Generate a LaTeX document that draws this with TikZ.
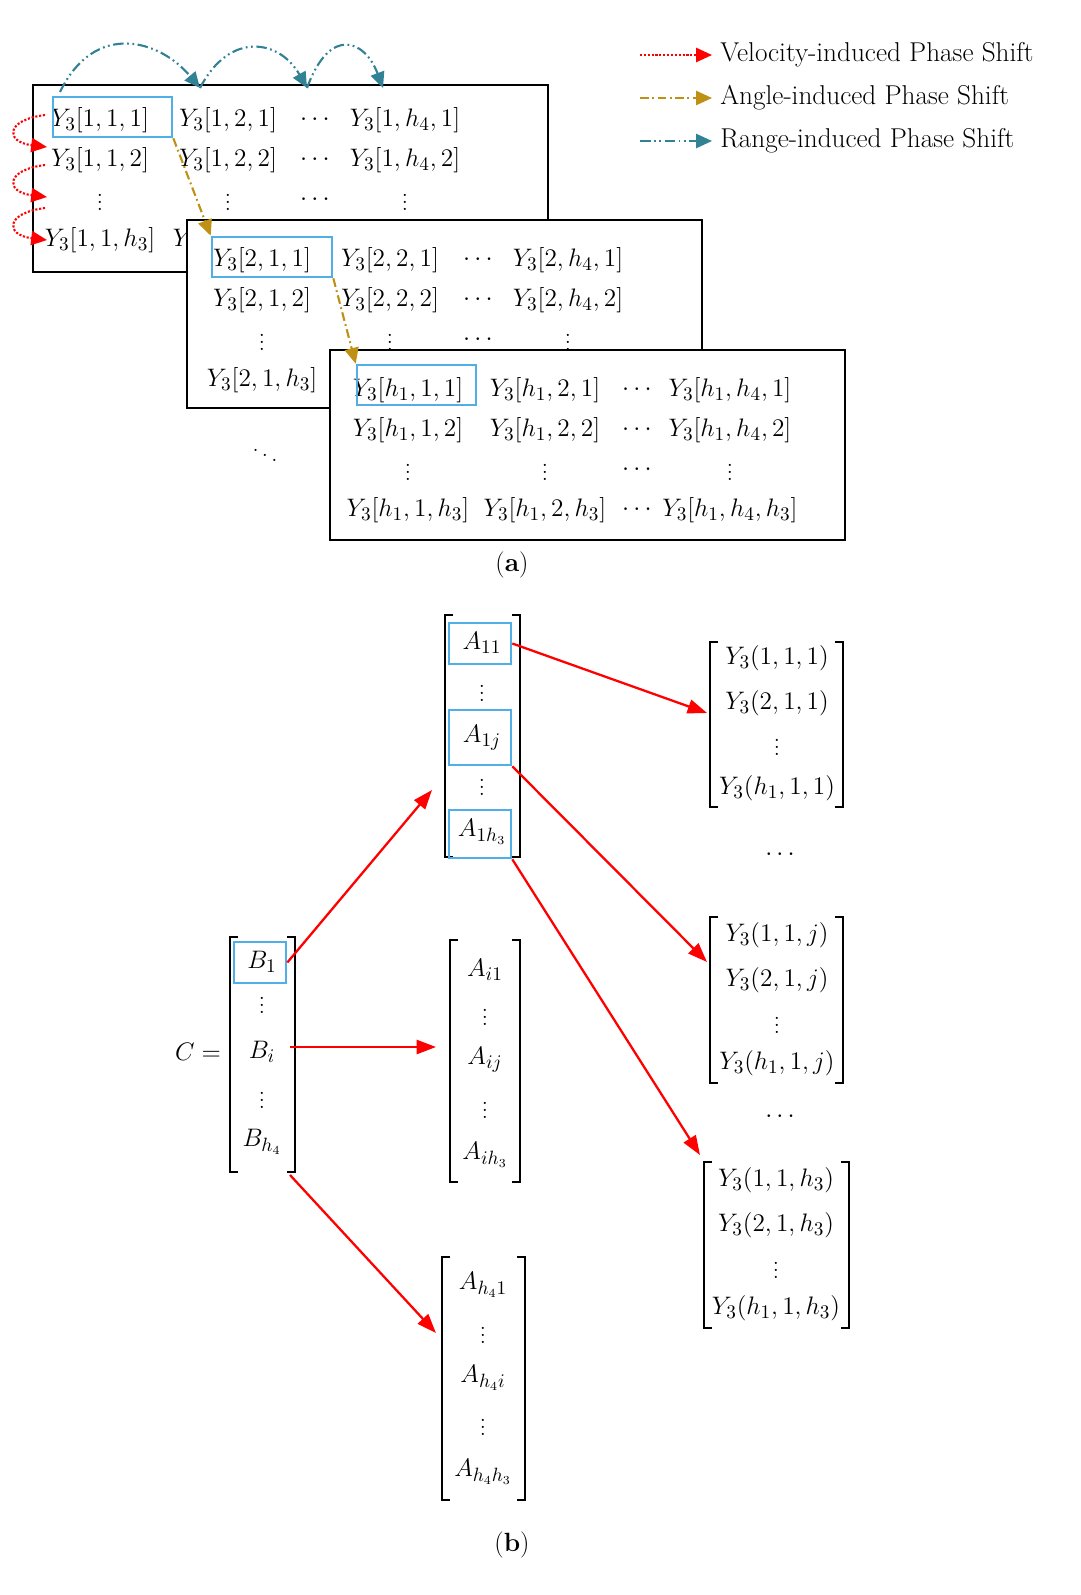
\documentclass[tikz,border=0pt]{standalone}
\usetikzlibrary{arrows.meta}
\begin{document}
\begin{tikzpicture}[x=0.02cm,y=-0.02cm,font=\fontsize{15}{18}\selectfont,
  box/.style={draw,line width=1.6pt,fill=white},
  sel/.style={draw=cyan!80!blue!70,line width=1.5pt,inner sep=0pt},
  e/.style={inner sep=0pt,anchor=center},
  vel/.style={red,densely dotted,line width=1.2pt,-{Triangle[length=9pt,width=8pt]}},
  ang/.style={draw={rgb,255:red,190;green,145;blue,20},dash pattern=on 5pt off 2pt on 1pt off 2pt,line width=1.2pt,-{Triangle[length=9pt,width=8pt]}},
  rng/.style={draw={rgb,255:red,50;green,130;blue,150},dash pattern=on 6pt off 2pt on 1pt off 2pt on 1pt off 2pt,line width=1.2pt,-{Triangle[length=9pt,width=8pt]}},
  arr/.style={red,line width=1.3pt,-{Triangle[length=11pt,width=8pt]}},
  brk/.style={line width=0.8pt}]
\useasboundingbox (0,0) rectangle (1080,1595);
% ---------- (a) ----------
\draw[box] (33,85) rectangle (548,272);
\foreach \y/\r in {120/1,160/2,240/{h_3}}{
  \node[e] at (100,\y) {$Y_3[1,1,\r]$};
  \node[e] at (228,\y) {$Y_3[1,2,\r]$};
  \node[e] at (405,\y) {$Y_3[1,h_4,\r]$};}
\node[e] at (315,120) {$\cdots$};\node[e] at (315,160) {$\cdots$};
\node[e] at (100,197) {$\vdots$};\node[e] at (228,197) {$\vdots$};\node[e] at (315,200) {$\cdots$};\node[e] at (405,197) {$\vdots$};
\coordinate (a1) at (60,92);\coordinate (a2) at (200,88);\coordinate (a3) at (307,88);\coordinate (a4) at (383,88);
\node[sel,minimum width={119*0.02cm},minimum height={40*0.02cm}] (s1) at (112.5,117) {};

\draw[box] (187,220) rectangle (702,408);
\foreach \y/\r in {260/1,300/2}{
  \node[e] at (262,\y) {$Y_3[2,1,\r]$};
  \node[e] at (390,\y) {$Y_3[2,2,\r]$};
  \node[e] at (478,\y) {$\cdots$};
  \node[e] at (568,\y) {$Y_3[2,h_4,\r]$};}
\node[e] at (262,380) {$Y_3[2,1,h_3]$};
\node[e] at (262,337) {$\vdots$};\node[e] at (390,337) {$\vdots$};\node[e] at (478,340) {$\cdots$};\node[e] at (568,337) {$\vdots$};
\node[sel,minimum width={120*0.02cm},minimum height={40*0.02cm}] (s2) at (272,257) {};
\node[e] at (265,450) {$\ddots$};

\draw[box] (330,350) rectangle (845,540);
\foreach \y/\r in {390/1,430/2,510/{h_3}}{
  \node[e] at (408,\y) {$Y_3[h_1,1,\r]$};
  \node[e] at (545,\y) {$Y_3[h_1,2,\r]$};
  \node[e] at (637,\y) {$\cdots$};
  \node[e] at (730,\y) {$Y_3[h_1,h_4,\r]$};}
\node[e] at (408,467) {$\vdots$};\node[e] at (545,467) {$\vdots$};\node[e] at (637,470) {$\cdots$};\node[e] at (730,467) {$\vdots$};
\node[sel,minimum width={119*0.02cm},minimum height={40*0.02cm}] (s3) at (416.5,385) {};

% arrows (a)
\draw[rng] (a1) .. controls (95,20) and (160,40) .. (a2);
\draw[rng] (a2) .. controls (230,30) and (280,40) .. (a3);
\draw[rng] (a3) .. controls (330,25) and (365,40) .. (a4);
\foreach \ya/\yb in {115/147,165/197,208/240}{
  \draw[vel] (45,\ya) .. controls (5,\ya+5) and (5,\yb-5) .. (47,\yb);}
\draw[ang] (s1.south east) -- (s2.north west);
\draw[ang] (s2.south east) -- (s3.north west);

% legend
\coordinate (l1a) at (640,55);\coordinate (l1b) at (712,55);
\coordinate (l2a) at (640,98);\coordinate (l2b) at (712,98);
\coordinate (l3a) at (640,141);\coordinate (l3b) at (712,141);
\draw[vel] (l1a) -- (l1b);\draw[ang] (l2a) -- (l2b);\draw[rng] (l3a) -- (l3b);
\begin{scope}[font=\fontsize{15.5}{18}\selectfont]
\node[anchor=west,inner sep=0pt] at (720,55) {Velocity-induced Phase Shift};
\node[anchor=west,inner sep=0pt] at (720,98) {Angle-induced Phase Shift};
\node[anchor=west,inner sep=0pt] at (720,141) {Range-induced Phase Shift};
\end{scope}
\node[e] at (512,565) {(\textbf{a})};

% ---------- (b) ----------
\newcommand\mybrk[4]{% x1,y1,x2,y2
  \draw[brk] (#1+8,#2) -- (#1,#2) -- (#1,#4) -- (#1+8,#4);
  \draw[brk] (#3-8,#2) -- (#3,#2) -- (#3,#4) -- (#3-8,#4);}
% C
\mybrk{230}{937}{295}{1172}
\node[e] at (198,1052) {$C=$};
\node[e] at (262,962) {$B_1$};
\node[sel,minimum width={52*0.02cm},minimum height={41*0.02cm}] (b1) at (260,962.5) {};
\node[e] at (262,1000) {$\vdots$};
\node[e] (bi) at (262,1052) {$B_i$};
\node[e] at (262,1095) {$\vdots$};
\node[e] at (262,1142) {$B_{h_4}$};
\coordinate (bi0) at (290,1047);\coordinate (bh0) at (290,1175);
% A1
\mybrk{445}{615}{520}{857}
\node[e] at (482,643) {$A_{11}$};
\node[e] at (482,688) {$\vdots$};
\node[e] at (482,738) {$A_{1j}$};
\node[e] at (482,782) {$\vdots$};
\node[e] at (482,832) {$A_{1h_3}$};
\node[sel,minimum width={62*0.02cm},minimum height={41*0.02cm}] (q1) at (480,643.5) {};
\node[sel,minimum width={62*0.02cm},minimum height={55*0.02cm}] (qj) at (480,737.5) {};
\node[sel,minimum width={62*0.02cm},minimum height={48*0.02cm}] (qh) at (480,834) {};
\coordinate (A1in) at (432,790);
% Ai
\mybrk{450}{940}{520}{1182}
\node[e] at (485,970) {$A_{i1}$};
\node[e] at (485,1012) {$\vdots$};
\node[e] at (485,1060) {$A_{ij}$};
\node[e] at (485,1105) {$\vdots$};
\node[e] at (485,1155) {$A_{ih_3}$};
\coordinate (Aiin) at (436,1047);
% Ah4
\mybrk{442}{1257}{525}{1500}
\node[e] at (483,1285) {$A_{h_41}$};
\node[e] at (483,1330) {$\vdots$};
\node[e] at (483,1378) {$A_{h_4i}$};
\node[e] at (483,1422) {$\vdots$};
\node[e] at (483,1472) {$A_{h_4h_3}$};
\coordinate (Ahin) at (436,1333);
% right matrices
\mybrk{710}{642}{843}{807}
\node[e] at (777,658) {$Y_3\bigl(1,1,1\bigr)$};
\node[e] at (777,703) {$Y_3\bigl(2,1,1\bigr)$};
\node[e] at (777,742) {$\vdots$};
\node[e] at (777,788) {$Y_3\bigl(h_1,1,1\bigr)$};
\node[e] at (780,855) {$\cdots$};
\coordinate (M1) at (707,713);
\mybrk{710}{917}{843}{1083}
\node[e] at (777,935) {$Y_3\bigl(1,1,j\bigr)$};
\node[e] at (777,980) {$Y_3\bigl(2,1,j\bigr)$};
\node[e] at (777,1020) {$\vdots$};
\node[e] at (777,1063) {$Y_3\bigl(h_1,1,j\bigr)$};
\node[e] at (780,1117) {$\cdots$};
\coordinate (M2) at (707,962);
\mybrk{704}{1162}{849}{1328}
\node[e] at (776,1180) {$Y_3\bigl(1,1,h_3\bigr)$};
\node[e] at (776,1225) {$Y_3\bigl(2,1,h_3\bigr)$};
\node[e] at (776,1265) {$\vdots$};
\node[e] at (776,1308) {$Y_3\bigl(h_1,1,h_3\bigr)$};
\coordinate (M3) at (700,1155);
% arrows (b)
\draw[arr] (b1.east) -- (A1in);
\draw[arr] (bi0) -- (Aiin);
\draw[arr] (bh0) -- (Ahin);
\draw[arr] (q1.east) -- (M1);
\draw[arr] (qj.south east) -- (M2);
\draw[arr] (qh.south east) -- (M3);
\node[e] at (512,1545) {(\textbf{b})};
\end{tikzpicture}
\end{document}
